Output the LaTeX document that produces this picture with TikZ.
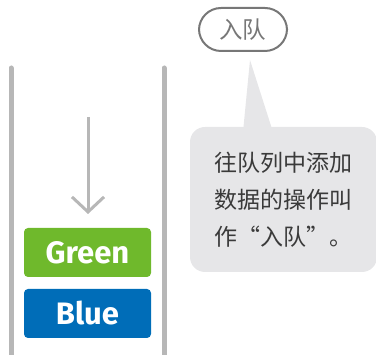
\documentclass[tikz,border=0pt]{standalone}
\usepackage{fontspec}
\setmainfont{Fira Sans}
\newfontfamily\cjk{Noto Sans CJK SC}
\usetikzlibrary{arrows.meta}
\definecolor{wallgray}{HTML}{B7B7B7}
\definecolor{qgreen}{HTML}{6FB92C}
\definecolor{qblue}{HTML}{006DB8}
\definecolor{bubble}{HTML}{E6E6E8}
\definecolor{pillgray}{HTML}{777777}
\definecolor{txtgray}{HTML}{3A3A3A}
\tikzset{
  wall/.style={draw=wallgray, line width=5pt, line cap=round},
  item/.style={rounded corners=4pt, minimum width=127pt, minimum height=49pt, inner sep=0pt,
    text=white, font=\fontsize{31}{31}\selectfont\bfseries},
  pill/.style={draw=pillgray, line width=2pt, rounded corners=22pt, minimum width=88pt, minimum height=43pt,
    inner sep=0pt, text=pillgray, font=\cjk\fontsize{23.5}{23.5}\selectfont},
  bubblebox/.style={fill=bubble, rounded corners=15pt, minimum width=187pt, minimum height=145pt,
    inner sep=0pt, text=txtgray, align=left, font=\cjk\fontsize{23}{37}\selectfont},
  enq/.style={draw=wallgray, line width=3pt, -{Straight Barb[length=15pt,width=32pt,line width=3pt]}}
}
\begin{document}
\begin{tikzpicture}[x=1pt,y=-1pt]
\useasboundingbox (0,0) rectangle (376,355);
\coordinate (lt) at (11,68);
\coordinate (lb) at (11,360);
\coordinate (rt) at (164,68);
\coordinate (rb) at (164,360);
\draw[wall] (lt) -- (lb);
\draw[wall] (rt) -- (rb);
\coordinate (as) at (88,117);
\coordinate (ae) at (88,214);
\draw[enq] (as) -- (ae);
\node[item, fill=qgreen] (green) at (87.5,252.5) {Green};
\node[item, fill=qblue] (blue) at (87.5,313.5) {Blue};
\node[pill] (pill) at (243,29.5) {入队};
\coordinate (tip) at (250,60);
\coordinate (tl) at (243,132);
\coordinate (tr) at (273,132);
\fill[bubble] (tl) -- (tip) -- (tr) -- cycle;
\node[bubblebox] (note) at (283.5,199.5) {往队列中添加\\数据的操作叫\\作“入队”。};
\end{tikzpicture}
\end{document}
